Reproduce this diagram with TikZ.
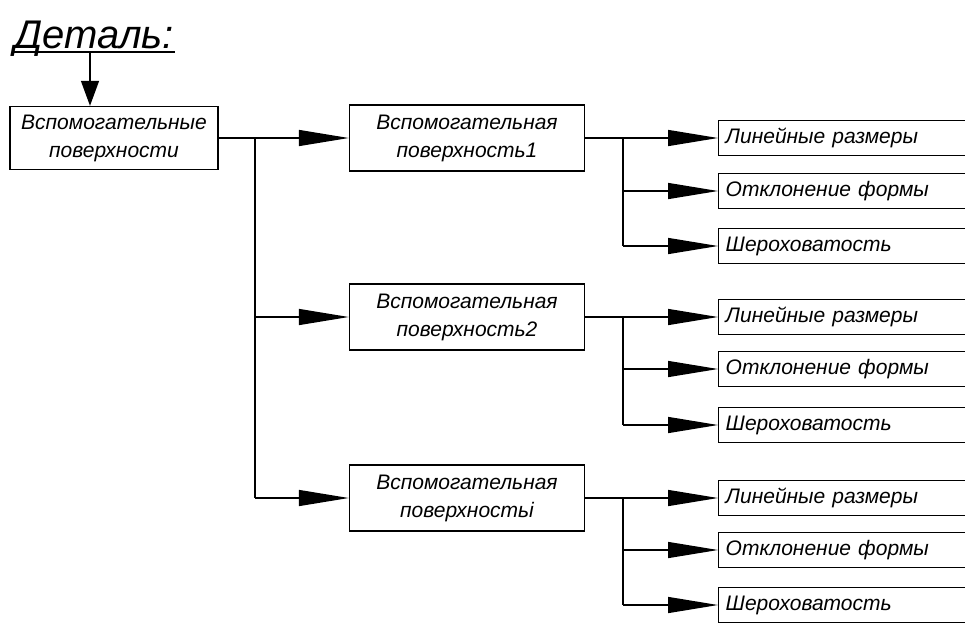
\documentclass[tikz,border=0pt]{standalone}
\usepackage{fontspec}
\setmainfont{Liberation Sans}
\usetikzlibrary{positioning,arrows.meta}

\begin{document}
\begin{tikzpicture}[x=1pt,y=-1pt,line width=1.4pt,
		font=\itshape\fontsize{21}{28}\selectfont,
		mainbox/.style={draw, align=center, minimum width=208pt, minimum height=63pt, inner sep=2pt},
		subbox/.style={draw, align=center, minimum width=235pt, minimum height=66pt, inner sep=2pt},
		leaf/.style={draw, anchor=west, minimum height=35pt, text width=276pt, inner xsep=7pt, align=left},
		flow/.style={-{Triangle[length=50pt,width=16pt]}},
		downarrow/.style={-{Triangle[length=25pt,width=18pt]}}]
		\useasboundingbox (0,0) rectangle (965,622);
		\clip (0,0) rectangle (965,622);
		% title
		\node[anchor=base west, inner sep=0pt, font=\itshape\fontsize{40}{40}\selectfont]
		(title) at (14,48) {Деталь:};
		\draw ([yshift=-4pt]title.base west) -- ([yshift=-4pt]title.base east);
		\coordinate (tick) at (90,52);
		% boxes
		\node[mainbox] (surf) at (114,138) {Вспомогательные\\поверхности};
		\node[subbox] (s1) at (467,138) {Вспомогательная\\поверхность1};
		\node[subbox] (s2) at (467,317) {Вспомогательная\\поверхность2};
		\node[subbox] (s3) at (467,498) {Вспомогательная\\поверхностьi};
		\draw[downarrow] (tick) -- (tick |- surf.north);
		% first level bus
		\coordinate (bus) at (255,138);
		\draw[flow] (surf.east) -- (s1.west);
		\draw (bus) -- (bus |- s3.west);
		\draw[flow] (bus |- s2.west) -- (s2.west);
		\draw[flow] (bus |- s3.west) -- (s3.west);
		% leaves
		\foreach \s/\a/\b/\c in {s1/138/191/246, s2/317/369/425, s3/498/550/605}
		{
			\node[leaf] (\s-a) at (718,\a) {Линейные размеры};
			\node[leaf] (\s-b) at (718,\b) {Отклонение формы};
			\node[leaf] (\s-c) at (718,\c) {Шероховатость};
			\coordinate (\s-bus) at (623,\a);
			\draw[flow] (\s.east) -- (\s-a.west);
			\draw (\s-bus) -- (\s-bus |- \s-c.west);
			\draw[flow] (\s-bus |- \s-b.west) -- (\s-b.west);
			\draw[flow] (\s-bus |- \s-c.west) -- (\s-c.west);
		}
\end{tikzpicture}
\end{document}
